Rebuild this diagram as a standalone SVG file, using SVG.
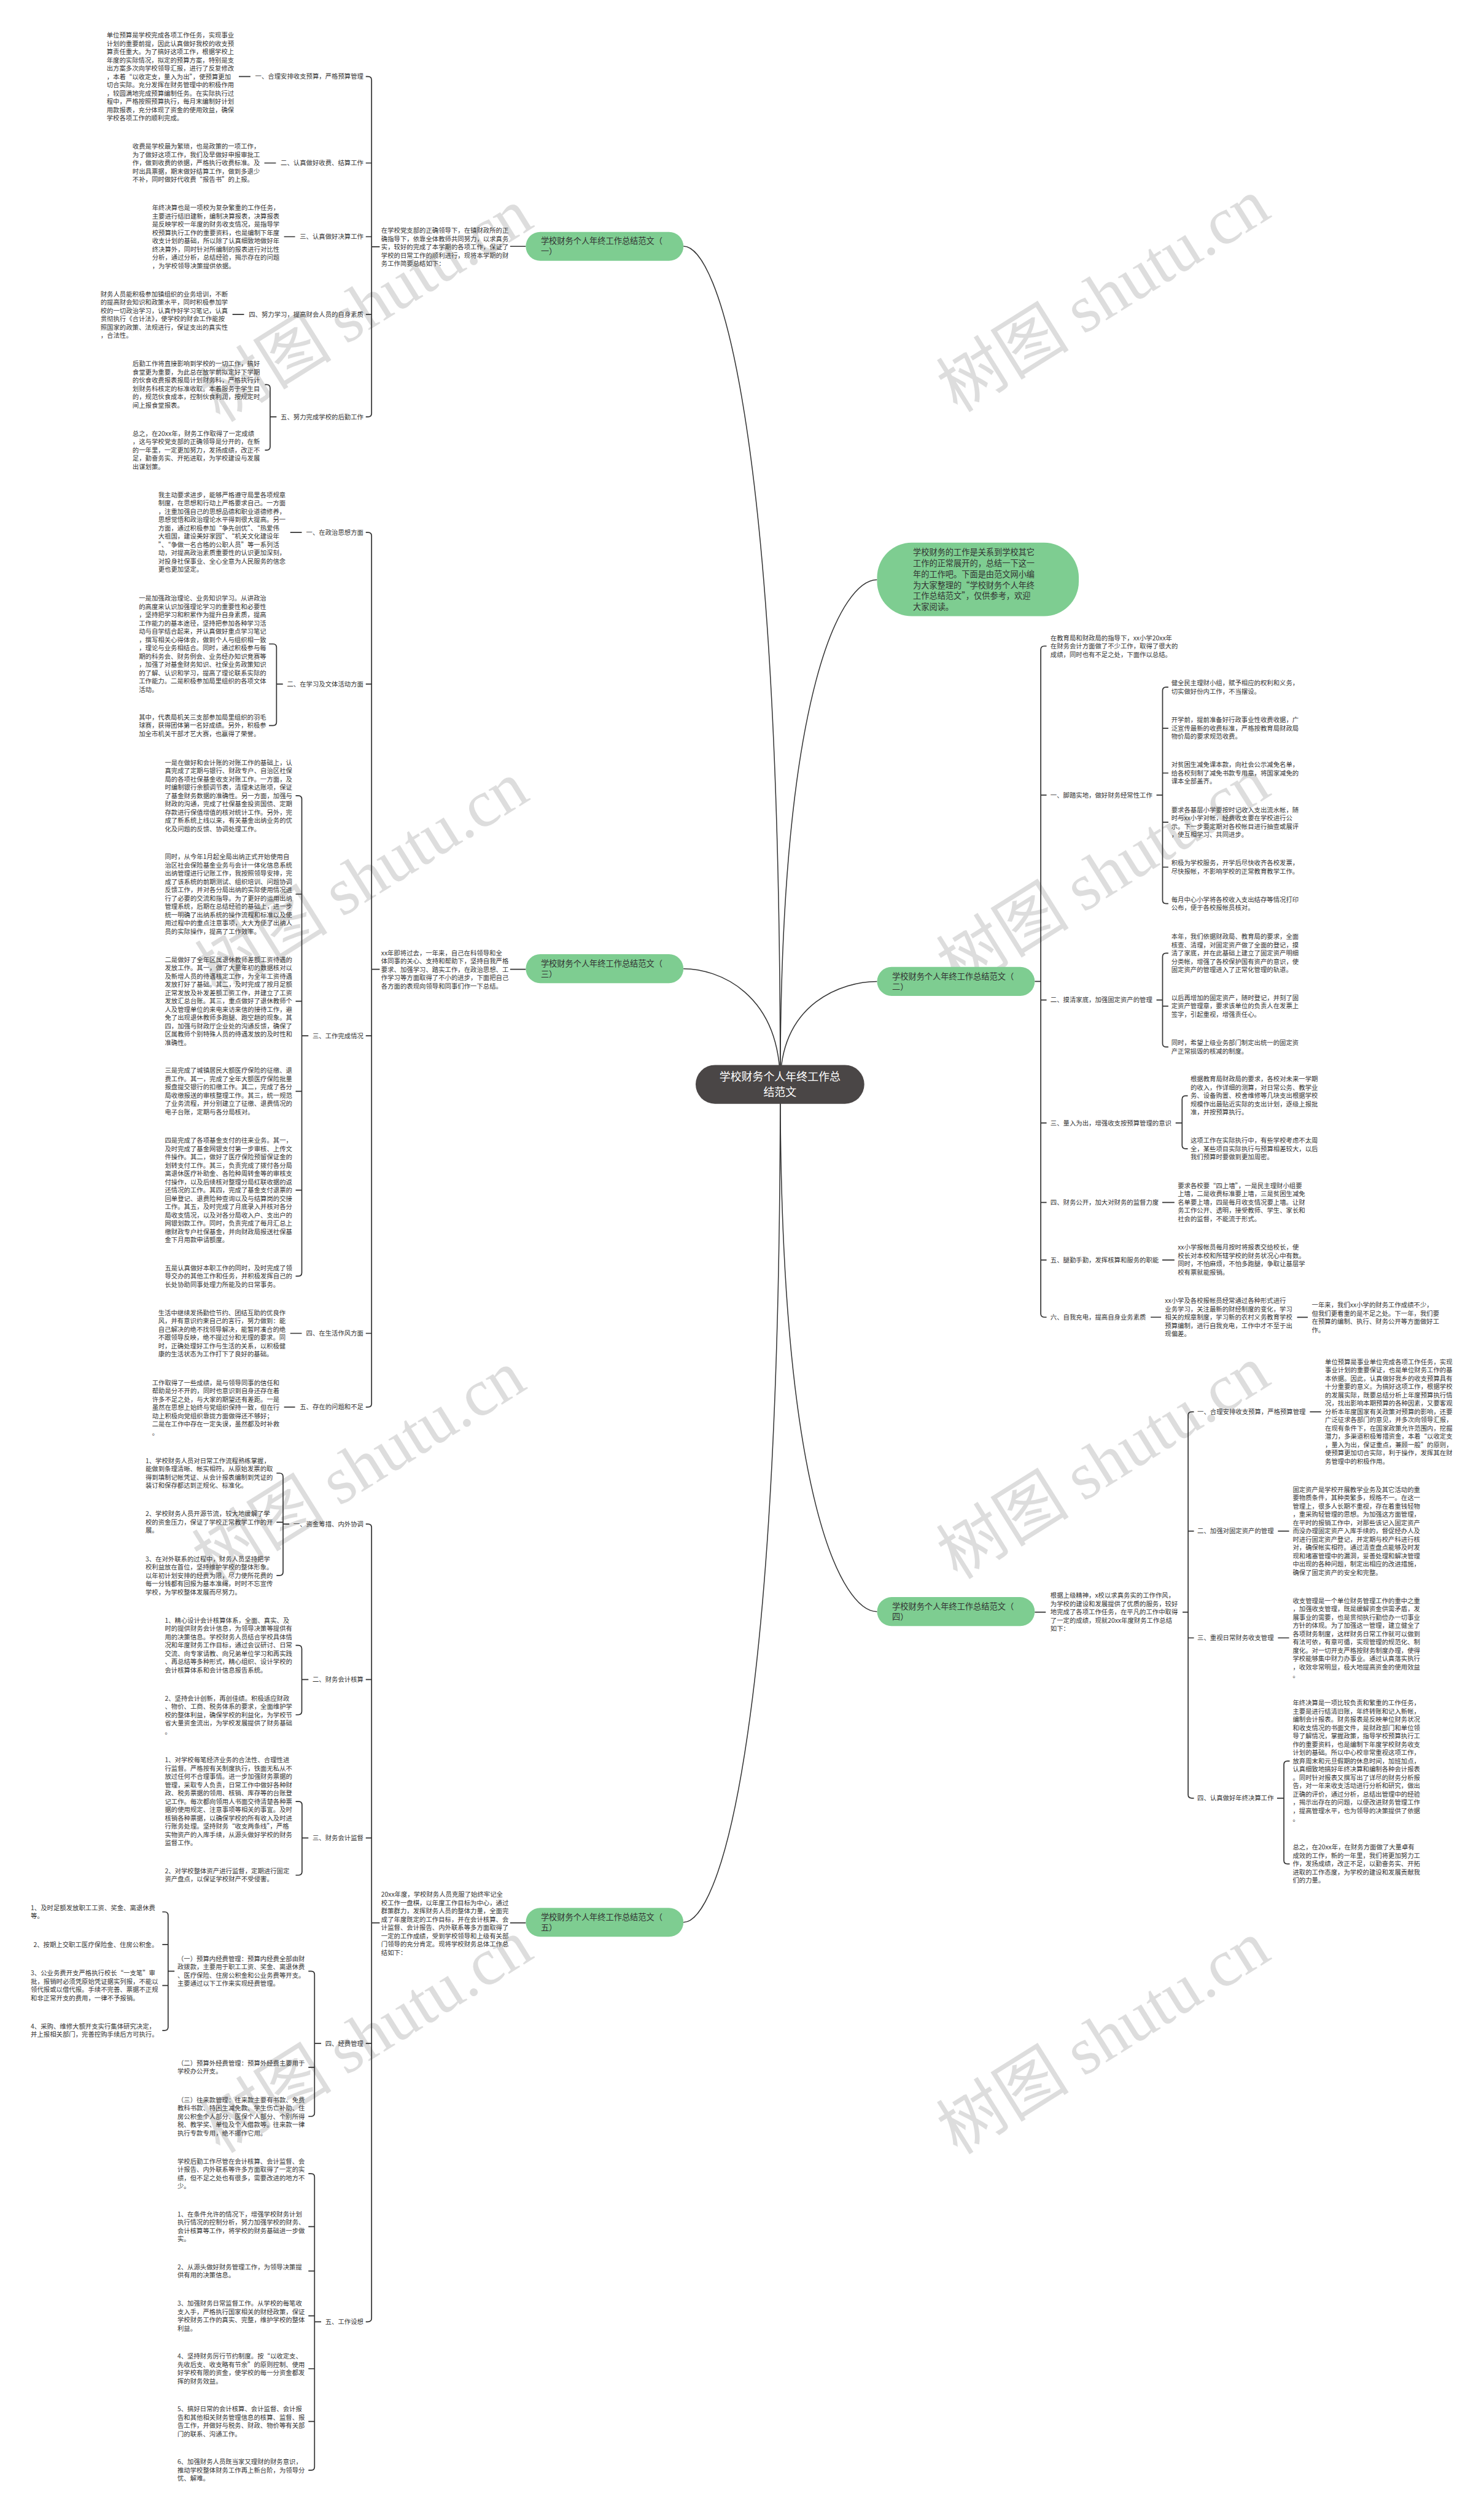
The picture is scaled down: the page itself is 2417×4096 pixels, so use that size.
<svg xmlns="http://www.w3.org/2000/svg" width="2417" height="4096" viewBox="0 0 2417 4096">
<defs>
<style>
.t{font-family:"Noto Sans CJK SC","Noto Sans",sans-serif;font-size:11px;fill:#333}
.lb{font-family:"Noto Sans CJK SC","Noto Sans",sans-serif;font-size:11px;fill:#333;text-anchor:end}
.lr{font-family:"Noto Sans CJK SC","Noto Sans",sans-serif;font-size:11px;fill:#333}
.nt{font-family:"Noto Sans CJK SC","Noto Sans",sans-serif;font-size:14px;fill:#333}
.ct{font-family:"Noto Sans CJK SC","Noto Sans",sans-serif;font-size:19px;fill:#fff;text-anchor:middle}
.node{fill:#7ecd91}
.ln{fill:none;stroke:#333;stroke-width:1.8}
.cv{fill:none;stroke:#333;stroke-width:1.6}
.wm{font-family:"Noto Sans CJK SC",sans-serif;font-size:115px;fill:#cfcfcf;opacity:0.7;text-anchor:middle}
.wm tspan.s{font-family:"Liberation Serif",serif}
</style>
</defs>
<rect width="2417" height="4096" fill="#fff"/>
<g transform="scale(0.94414)">
<g id="watermarks">
<text class="wm" transform="translate(652,560) rotate(-32)">树图 <tspan class="s">shutu.cn</tspan></text>
<text class="wm" transform="translate(645,1548) rotate(-32)">树图 <tspan class="s">shutu.cn</tspan></text>
<text class="wm" transform="translate(640,2564) rotate(-32)">树图 <tspan class="s">shutu.cn</tspan></text>
<text class="wm" transform="translate(652,3546) rotate(-32)">树图 <tspan class="s">shutu.cn</tspan></text>
<text class="wm" transform="translate(1924,543) rotate(-32)">树图 <tspan class="s">shutu.cn</tspan></text>
<text class="wm" transform="translate(1924,1540) rotate(-32)">树图 <tspan class="s">shutu.cn</tspan></text>
<text class="wm" transform="translate(1924,2556) rotate(-32)">树图 <tspan class="s">shutu.cn</tspan></text>
<text class="wm" transform="translate(1924,3548) rotate(-32)">树图 <tspan class="s">shutu.cn</tspan></text>
</g>
<g id="connectors">
<path class="cv" d="M1179,424.6 C1237,424.6 1346,714 1346,1870"/>
<path class="cv" d="M1179,1671 C1237,1671 1346,1711 1346,1870"/>
<path class="cv" d="M1179,3316 C1237,3316 1346,3027 1346,1870"/>
<path class="cv" d="M1513,1000 C1455,1000 1346,1174 1346,1870"/>
<path class="cv" d="M1513,1693 C1455,1693 1346,1728 1346,1870"/>
<path class="cv" d="M1513,2780 C1455,2780 1346,2598 1346,1870"/>
<path class="ln" d="M880,425 H907 M880,1672 H907 M880,3317 H907"/>
<path class="ln" d="M631,132 H635 Q641,132 641,138 V713 Q641,719 635,719 H631 M631,281.2 H641 M631,408.3 H641 M631,542.4 H641 M641,425.6 H655"/>
<path class="ln" d="M412,132 H432 M456,281.2 H476 M490,408.3 H509 M401,542.4 H421"/>
<path class="ln" d="M457,663.5 H460 Q466,663.5 466,669.5 V770.6 Q466,776.6 460,776.6 H457 M466,719 H477"/>
<path class="ln" d="M631,918.4 H635 Q641,918.4 641,924.4 V2421.3 Q641,2427.3 635,2427.3 H631 M631,1180 H641 M631,1786.6 H641 M631,2300 H641 M641,1672 H655"/>
<path class="ln" d="M464,1110.8 H471 Q477,1110.8 477,1116.8 V1245.5 Q477,1251.5 471,1251.5 H464 M477,1180 H488"/>
<path class="ln" d="M510,1372.5 H514.6 Q520.6,1372.5 520.6,1378.5 V2195.4 Q520.6,2201.4 514.6,2201.4 H510 M510,1542.4 H520.6 M510,1727 H520.6 M510,1882.5 H520.6 M510,2053 H520.6 M520.6,1786.6 H532"/>
<path class="ln" d="M500.7,918.4 H520.6 M500.7,2300 H520.6 M490,2427.3 H509"/>
<path class="ln" d="M631,2628.9 H635 Q641,2628.9 641,2634.9 V3999 Q641,4005 635,4005 H631 M631,2897.2 H641 M631,3170.4 H641 M631,3524.8 H641 M641,3317 H655"/>
<path class="ln" d="M477,2541.2 H482.3 Q488.3,2541.2 488.3,2547.2 V2711.7 Q488.3,2717.7 482.3,2717.7 H477 M477,2625.8 H488.3 M488.3,2628.9 H499"/>
<path class="ln" d="M510,2838.1 H514.6 Q520.6,2838.1 520.6,2844.1 V2952 Q520.6,2958 514.6,2958 H510 M520.6,2897.2 H532"/>
<path class="ln" d="M510,3107.5 H515 Q521,3107.5 521,3113.5 V3228.7 Q521,3234.7 515,3234.7 H510 M521,3170.4 H532"/>
<path class="ln" d="M532,3400.3 H536.6 Q542.6,3400.3 542.6,3406.3 V3644.7 Q542.6,3650.7 536.6,3650.7 H532 M532,3566 H542.6 M542.6,3524.8 H554"/>
<path class="ln" d="M280,3298 H284 Q290,3298 290,3304 V3496.5 Q290,3502.5 284,3502.5 H280 M280,3354.3 H290 M280,3424.9 H290 M290,3400.3 H301"/>
<path class="ln" d="M532,3749.5 H536.6 Q542.6,3749.5 542.6,3755.5 V4255.1 Q542.6,4261.1 536.6,4261.1 H532 M532,3841 H542.6 M532,3917.4 H542.6 M532,3994.8 H542.6 M532,4086 H542.6 M532,4177 H542.6 M542.6,4005 H554"/>
<path class="ln" d="M1805.4,1114.5 H1801.4 Q1795.4,1114.5 1795.4,1120.5 V2266.2 Q1795.4,2272.2 1801.4,2272.2 H1805.4 M1795.4,1371.5 H1805.4 M1795.4,1724.9 H1805.4 M1795.4,1937 H1805.4 M1795.4,2074.3 H1805.4 M1795.4,2173.5 H1805.4 M1785,1693 H1795.4"/>
<path class="ln" d="M2015.5,1185.4 H2011.5 Q2005.5,1185.4 2005.5,1191.4 V1552.7 Q2005.5,1558.7 2011.5,1558.7 H2015.5 M2005.5,1256.3 H2015.5 M2005.5,1333.5 H2015.5 M2005.5,1418.3 H2015.5 M2005.5,1495.8 H2015.5 M1995,1371.5 H2005.5"/>
<path class="ln" d="M2015.5,1644.2 H2011.5 Q2005.5,1644.2 2005.5,1650.2 V1800 Q2005.5,1806 2011.5,1806 H2015.5 M2005.5,1735.5 H2015.5 M1995,1724.9 H2005.5"/>
<path class="ln" d="M2049,1890.3 H2045.2 Q2039.2,1890.3 2039.2,1896.3 V1975.6 Q2039.2,1981.6 2045.2,1981.6 H2049 M2028,1937 H2039.2"/>
<path class="ln" d="M2005,2074.3 H2026 M2005,2173.5 H2026 M1985,2272.2 H2003 M2237.6,2272.3 H2256"/>
<path class="ln" d="M1785,2781 H1804 M2040,2781 H2049.6 M2059.6,2435.4 H2055.6 Q2049.6,2435.4 2049.6,2441.4 V3095.8 Q2049.6,3101.8 2055.6,3101.8 H2059.6 M2049.6,2641.1 H2059.6 M2049.6,2825.3 H2059.6"/>
<path class="ln" d="M2259.6,2435.4 H2279 M2204.5,2641.1 H2223.8 M2204.5,2825.3 H2223.8 M2203,3101.8 H2214.8 M2224.8,3037.8 H2220.8 Q2214.8,3037.8 2214.8,3043.8 V3209.3 Q2214.8,3215.3 2220.8,3215.3 H2224.8"/>
</g>
<g id="center">
<rect x="1200" y="1837" width="291" height="67" rx="33.5" fill="#4a4646"/>
<text class="ct" x="1345.5" y="1864">学校财务个人年终工作总<tspan x="1345.5" dy="27">结范文</tspan></text>
</g>
<g id="intro">
<rect class="node" x="1513" y="936" width="348" height="127" rx="60"/>
<text class="nt" x="1575" y="958">学校财务的工作是关系到学校其它<tspan x="1575" dy="18.8">工作的正常展开的，总结一下这一</tspan><tspan x="1575" dy="18.8">年的工作吧。下面是由范文网小编</tspan><tspan x="1575" dy="18.8">为大家整理的“学校财务个人年终</tspan><tspan x="1575" dy="18.8">工作总结范文”，仅供参考，欢迎</tspan><tspan x="1575" dy="18.8">大家阅读。</tspan></text>
</g>
<g id="branch1">
<rect class="node" x="907" y="400" width="272" height="50" rx="25"/>
<text class="nt" x="933" y="421">学校财务个人年终工作总结范文（<tspan x="933" dy="18">一）</tspan></text>
<text class="t" x="657.5" y="401.5">在学校党支部的正确领导下，在镇财政所的正<tspan x="657.5" dy="14.3">确指导下，依靠全体教师共同努力，以求真务</tspan><tspan x="657.5" dy="14.3">实，较好的完成了本学期的各项工作，保证了</tspan><tspan x="657.5" dy="14.3">学校的日常工作的顺利进行，现将本学期的财</tspan><tspan x="657.5" dy="14.3">务工作简要总结如下：</tspan></text>
<text class="lb" x="627" y="136">一、合理安排收支预算，严格预算管理</text>
<text class="lb" x="627" y="285.2">二、认真做好收费、结算工作</text>
<text class="lb" x="627" y="412.3">三、认真做好决算工作</text>
<text class="lb" x="627" y="546.4">四、努力学习，提高财会人员的自身素质</text>
<text class="lb" x="627" y="723">五、努力完成学校的后勤工作</text>
<text class="t" x="184" y="64.8">单位预算是学校完成各项工作任务，实现事业<tspan x="184" dy="14.3">计划的重要前提，因此认真做好我校的收支预</tspan><tspan x="184" dy="14.3">算责任重大。为了搞好这项工作，根据学校上</tspan><tspan x="184" dy="14.3">年度的实际情况，拟定的预算方案，特别是支</tspan><tspan x="184" dy="14.3">出方案多次向学校领导汇报，进行了反复修改</tspan><tspan x="184" dy="14.3">，本着“以收定支，量入为出”，使预算更加</tspan><tspan x="184" dy="14.3">切合实际。充分发挥在财务管理中的积极作用</tspan><tspan x="184" dy="14.3">，较圆满地完成预算编制任务。在实际执行过</tspan><tspan x="184" dy="14.3">程中，严格按照预算执行，每月末编制好计划</tspan><tspan x="184" dy="14.3">用款报表，充分体现了资金的使用效益，确保</tspan><tspan x="184" dy="14.3">学校各项工作的顺利完成。</tspan></text>
<text class="t" x="228.6" y="256.7">收费是学校最为繁琐，也是政策的一项工作，<tspan x="228.6" dy="14.3">为了做好这项工作，我们及早做好申报审批工</tspan><tspan x="228.6" dy="14.3">作，做到收费的依据，严格执行收费标准。及</tspan><tspan x="228.6" dy="14.3">时出具票据，期末做好结算工作，做到多退少</tspan><tspan x="228.6" dy="14.3">不补，同时做好代收费“报告书”的上报。</tspan></text>
<text class="t" x="262.4" y="362.3">年终决算也是一项校为复杂繁重的工作任务，<tspan x="262.4" dy="14.3">主要进行结旧建新，编制决算报表，决算报表</tspan><tspan x="262.4" dy="14.3">是反映学校一年度的财务收支情况，是指导学</tspan><tspan x="262.4" dy="14.3">校预算执行工作的重要资料，也是编制下年度</tspan><tspan x="262.4" dy="14.3">收支计划的基础，所以除了认真细致地做好年</tspan><tspan x="262.4" dy="14.3">终决算外，同时针对所编制的报表进行对比性</tspan><tspan x="262.4" dy="14.3">分析，通过分析，总结经验，揭示存在的问题</tspan><tspan x="262.4" dy="14.3">，为学校领导决策提供依据。</tspan></text>
<text class="t" x="173.4" y="511.2">财务人员能积极参加镇组织的业务培训，不断<tspan x="173.4" dy="14.3">的提高财会知识和政策水平，同时积极参加学</tspan><tspan x="173.4" dy="14.3">校的一切政治学习，认真作好学习笔记，认真</tspan><tspan x="173.4" dy="14.3">贯彻执行《合计法》，使学校的财会工作能按</tspan><tspan x="173.4" dy="14.3">照国家的政策、法规进行，保证支出的真实性</tspan><tspan x="173.4" dy="14.3">，合法性。</tspan></text>
<text class="t" x="228.6" y="631.7">后勤工作将直接影响到学校的一切工作，搞好<tspan x="228.6" dy="14.3">食堂更为重要，为此总在放学前拟定好下学期</tspan><tspan x="228.6" dy="14.3">的伙食收费报表报局计划财务科，严格执行计</tspan><tspan x="228.6" dy="14.3">划财务科核定的标准收取。本着服务于学生目</tspan><tspan x="228.6" dy="14.3">的，规范伙食成本，控制伙食利润，按规定时</tspan><tspan x="228.6" dy="14.3">间上报食堂报表。</tspan></text>
<text class="t" x="228.6" y="752">总之，在20xx年，财务工作取得了一定成绩<tspan x="228.6" dy="14.3">，这与学校党支部的正确领导是分开的，在新</tspan><tspan x="228.6" dy="14.3">的一年里，一定更加努力，发扬成绩，改正不</tspan><tspan x="228.6" dy="14.3">足，勤奋务实、开拓进取，为学校建设与发展</tspan><tspan x="228.6" dy="14.3">出谋划策。</tspan></text>
</g>
<g id="branch3">
<rect class="node" x="907" y="1646" width="272" height="50" rx="25"/>
<text class="nt" x="933" y="1667">学校财务个人年终工作总结范文（<tspan x="933" dy="18">三）</tspan></text>
<text class="t" x="657.5" y="1647.8">xx年即将过去，一年来，自己在科领导和全<tspan x="657.5" dy="14.3">体同事的关心、支持和帮助下，坚持自我严格</tspan><tspan x="657.5" dy="14.3">要求、加强学习、踏实工作，在政治思想、工</tspan><tspan x="657.5" dy="14.3">作学习等方面取得了不小的进步，下面把自己</tspan><tspan x="657.5" dy="14.3">各方面的表现向领导和同事们作一下总结。</tspan></text>
<text class="lb" x="627" y="922.4">一、在政治思想方面</text>
<text class="lb" x="627" y="1184">二、在学习及文体活动方面</text>
<text class="lb" x="627" y="1790.6">三、工作完成情况</text>
<text class="lb" x="627" y="2304">四、在生活作风方面</text>
<text class="lb" x="627" y="2431.3">五、存在的问题和不足</text>
<text class="t" x="272.9" y="857.6">我主动要求进步，能够严格遵守局里各项规章<tspan x="272.9" dy="14.3">制度，在思想和行动上严格要求自己。一方面</tspan><tspan x="272.9" dy="14.3">，注重加强自己的思想品德和职业道德修养，</tspan><tspan x="272.9" dy="14.3">思想觉悟和政治理论水平得到很大提高。另一</tspan><tspan x="272.9" dy="14.3">方面，通过积极参加“争先创优”、“热爱伟</tspan><tspan x="272.9" dy="14.3">大祖国，建设美好家园”、“机关文化建设年</tspan><tspan x="272.9" dy="14.3">”、“争做一名合格的公职人员”等一系列活</tspan><tspan x="272.9" dy="14.3">动，对提高政治素质重要性的认识更加深刻，</tspan><tspan x="272.9" dy="14.3">对投身社保事业、全心全意为人民服务的信念</tspan><tspan x="272.9" dy="14.3">更也更加坚定。</tspan></text>
<text class="t" x="239.6" y="1036.1">一是加强政治理论、业务知识学习。从讲政治<tspan x="239.6" dy="14.3">的高度来认识加强理论学习的重要性和必要性</tspan><tspan x="239.6" dy="14.3">，坚持把学习和积累作为提升自身素质，提高</tspan><tspan x="239.6" dy="14.3">工作能力的基本途径，坚持把参加各种学习活</tspan><tspan x="239.6" dy="14.3">动与自学结合起来，并认真做好重点学习笔记</tspan><tspan x="239.6" dy="14.3">，撰写相关心得体会，做到个人与组织相一致</tspan><tspan x="239.6" dy="14.3">，理论与业务相结合。同时，通过积极参与每</tspan><tspan x="239.6" dy="14.3">期的科务会、财务例会、业务经办知识竞赛等</tspan><tspan x="239.6" dy="14.3">，加强了对基金财务知识、社保业务政策知识</tspan><tspan x="239.6" dy="14.3">的了解、认识和学习，提高了理论联系实际的</tspan><tspan x="239.6" dy="14.3">工作能力。二是积极参加局里组织的各项文体</tspan><tspan x="239.6" dy="14.3">活动。</tspan></text>
<text class="t" x="239.6" y="1241.2">其中，代表局机关三支部参加局里组织的羽毛<tspan x="239.6" dy="14.3">球赛，获得团体第一名好成绩。另外，积极参</tspan><tspan x="239.6" dy="14.3">加全市机关干部才艺大赛，也赢得了荣誉。</tspan></text>
<text class="t" x="284.3" y="1319.3">一是在做好和会计账的对账工作的基础上，认<tspan x="284.3" dy="14.3">真完成了定期与银行、财政专户、自治区社保</tspan><tspan x="284.3" dy="14.3">局的各项社保基金收支对账工作。一方面，及</tspan><tspan x="284.3" dy="14.3">时编制银行余额调节表，清理未达账项，保证</tspan><tspan x="284.3" dy="14.3">了基金财务数据的准确性。另一方面，加强与</tspan><tspan x="284.3" dy="14.3">财政的沟通，完成了社保基金投资国债、定期</tspan><tspan x="284.3" dy="14.3">存款进行保值增值的核对统计工作。另外，完</tspan><tspan x="284.3" dy="14.3">成了新系统上线以来，有关基金出纳业务的优</tspan><tspan x="284.3" dy="14.3">化及问题的反馈、协调处理工作。</tspan></text>
<text class="t" x="284.3" y="1482">同时，从今年1月起全局出纳正式开始使用自<tspan x="284.3" dy="14.3">治区社会保险基金业务与会计一体化信息系统</tspan><tspan x="284.3" dy="14.3">出纳管理进行记账工作，我按照领导安排，完</tspan><tspan x="284.3" dy="14.3">成了该系统的前期测试、组织培训、问题协调</tspan><tspan x="284.3" dy="14.3">反馈工作，并对各分局出纳的实际使用情况进</tspan><tspan x="284.3" dy="14.3">行了必要的交流和指导。为了更好的运用出纳</tspan><tspan x="284.3" dy="14.3">管理系统，后期在总结经验的基础上，进一步</tspan><tspan x="284.3" dy="14.3">统一明确了出纳系统的操作流程和标准以及使</tspan><tspan x="284.3" dy="14.3">用过程中的重点注意事项，大大方便了出纳人</tspan><tspan x="284.3" dy="14.3">员的实际操作，提高了工作效率。</tspan></text>
<text class="t" x="284.3" y="1659.5">二是做好了全年区属退休教师差额工资待遇的<tspan x="284.3" dy="14.3">发放工作。其一，做了大量年初的数据核对以</tspan><tspan x="284.3" dy="14.3">及新增人员的待遇核定工作，为全年工资待遇</tspan><tspan x="284.3" dy="14.3">发放打好了基础。其二，及时完成了按月足额</tspan><tspan x="284.3" dy="14.3">正常发放及补发差额工资工作，并建立了工资</tspan><tspan x="284.3" dy="14.3">发放汇总台账。其三，重点做好了退休教师个</tspan><tspan x="284.3" dy="14.3">人及管理单位的来电来访来信的接待工作，避</tspan><tspan x="284.3" dy="14.3">免了出现退休教师多跑腿、跑空趟的现象。其</tspan><tspan x="284.3" dy="14.3">四，加强与财政厅企业处的沟通反馈，确保了</tspan><tspan x="284.3" dy="14.3">区属教师个别特殊人员的待遇发放的及时性和</tspan><tspan x="284.3" dy="14.3">准确性。</tspan></text>
<text class="t" x="284.3" y="1850.8">三是完成了城镇居民大额医疗保险的征缴、退<tspan x="284.3" dy="14.3">费工作。其一，完成了全年大额医疗保险批量</tspan><tspan x="284.3" dy="14.3">报盘提交银行的扣缴工作。其二，完成了各分</tspan><tspan x="284.3" dy="14.3">局收缴报送的审核整理工作。其三，统一规范</tspan><tspan x="284.3" dy="14.3">了业务流程，并分别建立了征缴、退费情况的</tspan><tspan x="284.3" dy="14.3">电子台账，定期与各分局核对。</tspan></text>
<text class="t" x="284.3" y="1971.2">四是完成了各项基金支付的往来业务。其一，<tspan x="284.3" dy="14.3">及时完成了基金网银支付第一步审核、上传文</tspan><tspan x="284.3" dy="14.3">件操作。其二，做好了医疗保险预留保证金的</tspan><tspan x="284.3" dy="14.3">划转支付工作。其三，负责完成了拨付各分局</tspan><tspan x="284.3" dy="14.3">离退休医疗补助金、各险种周转金等的审核支</tspan><tspan x="284.3" dy="14.3">付操作，以及后续核对整理分局红联收据的返</tspan><tspan x="284.3" dy="14.3">还情况的工作。其四，完成了基金支付退票的</tspan><tspan x="284.3" dy="14.3">回单登记、退费险种查询以及与结算岗的交接</tspan><tspan x="284.3" dy="14.3">工作。其五，及时完成了月底录入并核对各分</tspan><tspan x="284.3" dy="14.3">局收支情况，以及对各分局收入户、支出户的</tspan><tspan x="284.3" dy="14.3">网银划款工作。同时，负责完成了每月汇总上</tspan><tspan x="284.3" dy="14.3">缴财政专户社保基金，并向财政局报送社保基</tspan><tspan x="284.3" dy="14.3">金下月用款申请额度。</tspan></text>
<text class="t" x="284.3" y="2191.1">五是认真做好本职工作的同时，及时完成了领<tspan x="284.3" dy="14.3">导交办的其他工作和任务，并积极发挥自己的</tspan><tspan x="284.3" dy="14.3">长处协助同事处理力所能及的日常事务。</tspan></text>
<text class="t" x="272.9" y="2268.7">生活中继续发扬勤俭节约、团结互助的优良作<tspan x="272.9" dy="14.3">风，并有意识约束自己的言行，努力做到：能</tspan><tspan x="272.9" dy="14.3">自己解决的绝不找领导解决，能暂时凑合的绝</tspan><tspan x="272.9" dy="14.3">不跟领导反映，绝不提过分和无理的要求。同</tspan><tspan x="272.9" dy="14.3">时，正确处理好工作与生活的关系，以积极健</tspan><tspan x="272.9" dy="14.3">康的生活状态为工作打下了良好的基础。</tspan></text>
<text class="t" x="262.4" y="2389">工作取得了一些成绩，是与领导同事的信任和<tspan x="262.4" dy="14.3">帮助是分不开的，同时也意识到自身还存在着</tspan><tspan x="262.4" dy="14.3">许多不足之处，与大家的期望还有差距。一是</tspan><tspan x="262.4" dy="14.3">虽然在思想上始终与党组织保持一致，但在行</tspan><tspan x="262.4" dy="14.3">动上积极向党组织靠拢方面做得还不够好；</tspan><tspan x="262.4" dy="14.3">二是在工作中存在一定失误，虽然都及时补救</tspan><tspan x="262.4" dy="14.3">。</tspan></text>
</g>
<g id="branch5">
<rect class="node" x="907" y="3291" width="272" height="50" rx="25"/>
<text class="nt" x="933" y="3312">学校财务个人年终工作总结范文（<tspan x="933" dy="18">五）</tspan></text>
<text class="t" x="657.5" y="3272.1">20xx年度，学校财务人员克服了始终牢记全<tspan x="657.5" dy="14.3">校工作一盘棋，以年度工作目标为中心，通过</tspan><tspan x="657.5" dy="14.3">群策群力，发挥财务人员的整体力量，全面完</tspan><tspan x="657.5" dy="14.3">成了年度既定的工作目标，并在会计核算、会</tspan><tspan x="657.5" dy="14.3">计监督、会计报告、内外联系等多方面取得了</tspan><tspan x="657.5" dy="14.3">一定的工作成绩，受到学校领导和上级有关部</tspan><tspan x="657.5" dy="14.3">门领导的充分肯定。现将学校财务总体工作总</tspan><tspan x="657.5" dy="14.3">结如下：</tspan></text>
<text class="lb" x="627" y="2632.9">一、资金筹措、内外协调</text>
<text class="lb" x="627" y="2901.2">二、财务会计核算</text>
<text class="lb" x="627" y="3174.4">三、财务会计监督</text>
<text class="lb" x="627" y="3528.8">四、经费管理</text>
<text class="lb" x="627" y="4009">五、工作设想</text>
<text class="t" x="251" y="2523.7">1、学校财务人员对日常工作流程熟练掌握，<tspan x="251" dy="14.3">能做到条理清晰、帐实相符。从原始发票的取</tspan><tspan x="251" dy="14.3">得到填制记帐凭证、从会计报表编制到凭证的</tspan><tspan x="251" dy="14.3">装订和保存都达到正规化、标准化。</tspan></text>
<text class="t" x="251" y="2615.5">2、学校财务人员开源节流，较大地缓解了学<tspan x="251" dy="14.3">校的资金压力，保证了学校正常教学工作的开</tspan><tspan x="251" dy="14.3">展。</tspan></text>
<text class="t" x="251" y="2693.1">3、在对外联系的过程中，财务人员坚持把学<tspan x="251" dy="14.3">校利益放在首位，坚持维护学校的整体形象。</tspan><tspan x="251" dy="14.3">以年初计划安排的经费为限，尽力使所花费的</tspan><tspan x="251" dy="14.3">每一分钱都有回报为基本准绳，时时不忘宣传</tspan><tspan x="251" dy="14.3">学校，为学校整体发展而尽努力。</tspan></text>
<text class="t" x="284.3" y="2799.2">1、精心设计会计核算体系，全面、真实、及<tspan x="284.3" dy="14.3">时的提供财务会计信息，为领导决策等提供有</tspan><tspan x="284.3" dy="14.3">用的决策信息。学校财务人员结合学校具体情</tspan><tspan x="284.3" dy="14.3">况和年度财务工作目标，通过会议研讨、日常</tspan><tspan x="284.3" dy="14.3">交流、向专家请教、向兄弟单位学习和再实践</tspan><tspan x="284.3" dy="14.3">、再总结等多种形式，精心组织、设计学校的</tspan><tspan x="284.3" dy="14.3">会计核算体系和会计信息报告系统。</tspan></text>
<text class="t" x="284.3" y="2933.4">2、坚持会计创新，再创佳绩。积极适应财政<tspan x="284.3" dy="14.3">、物价、工商、税务体系的要求，全面维护学</tspan><tspan x="284.3" dy="14.3">校的整体利益，确保学校的利益化，为学校节</tspan><tspan x="284.3" dy="14.3">省大量资金流出，为学校发展提供了财务基础</tspan><tspan x="284.3" dy="14.3">。</tspan></text>
<text class="t" x="284.3" y="3040">1、对学校每笔经济业务的合法性、合理性进<tspan x="284.3" dy="14.3">行监督。严格按有关制度执行，铁面无私从不</tspan><tspan x="284.3" dy="14.3">放过任何不合理事情。进一步加强财务票据的</tspan><tspan x="284.3" dy="14.3">管理，采取专人负责，日常工作中做好各种财</tspan><tspan x="284.3" dy="14.3">政、税务票据的领用、核销、库存等的台账登</tspan><tspan x="284.3" dy="14.3">记工作。每次都向领用人书面交待清楚各种票</tspan><tspan x="284.3" dy="14.3">据的使用规定、注意事项等相关的事宜。及时</tspan><tspan x="284.3" dy="14.3">核销各种票据，以确保学校的所有收入及时进</tspan><tspan x="284.3" dy="14.3">行账务处理。坚持财务“收支两条线”，严格</tspan><tspan x="284.3" dy="14.3">实物资产的入库手续，从源头做好学校的财务</tspan><tspan x="284.3" dy="14.3">监督工作。</tspan></text>
<text class="t" x="284.3" y="3231.5">2、对学校整体资产进行监督，定期进行固定<tspan x="284.3" dy="14.3">资产盘点，以保证学校财产不受侵害。</tspan></text>
<text class="t" x="306" y="3382.8">（一）预算内经费管理：预算内经费全部由财<tspan x="306" dy="14.3">政拨款，主要用于职工工资、奖金、离退休费</tspan><tspan x="306" dy="14.3">、医疗保险、住房公积金和公业务费等开支。</tspan><tspan x="306" dy="14.3">主要通过以下工作来实现经费管理。</tspan></text>
<text class="t" x="53" y="3294.9">1、及时足额发放职工工资、奖金、离退休费<tspan x="53" dy="14.3">等。</tspan></text>
<text class="t" x="57.6" y="3358.3">2、按期上交职工医疗保险金、住房公积金。</text>
<text class="t" x="53" y="3407.4">3、公业务费开支严格执行校长“一支笔”审<tspan x="53" dy="14.3">批，报销时必须凭原始凭证据实列报，不能以</tspan><tspan x="53" dy="14.3">领代报或以借代报。手续不完善、票据不正规</tspan><tspan x="53" dy="14.3">和非正常开支的费用，一律不予报销。</tspan></text>
<text class="t" x="53" y="3499.4">4、采购、维修大额开支实行集体研究决定，<tspan x="53" dy="14.3">并上报相关部门，完善控购手续后方可执行。</tspan></text>
<text class="t" x="306" y="3562.8">（二）预算外经费管理：预算外经费主要用于<tspan x="306" dy="14.3">学校办公开支。</tspan></text>
<text class="t" x="306" y="3626.1">（三）往来款管理：往来款主要有书款、免费<tspan x="306" dy="14.3">教科书款、特困生减免款、学生伤亡补助、住</tspan><tspan x="306" dy="14.3">房公积金个人部分、医保个人部分、个别所得</tspan><tspan x="306" dy="14.3">税、教学奖、单位及个人借款等。往来款一律</tspan><tspan x="306" dy="14.3">执行专款专用，绝不挪作它用。</tspan></text>
<text class="t" x="306" y="3732">学校后勤工作尽管在会计核算、会计监督、会<tspan x="306" dy="14.3">计报告、内外联系等许多方面取得了一定的实</tspan><tspan x="306" dy="14.3">绩，但不足之处也有很多，需要改进的地方不</tspan><tspan x="306" dy="14.3">少。</tspan></text>
<text class="t" x="306" y="3823.5">1、在条件允许的情况下，增强学校财务计划<tspan x="306" dy="14.3">执行情况的控制分析，努力加强学校的财务、</tspan><tspan x="306" dy="14.3">会计核算等工作，将学校的财务基础进一步做</tspan><tspan x="306" dy="14.3">实。</tspan></text>
<text class="t" x="306" y="3914.2">2、从源头做好财务管理工作，为领导决策提<tspan x="306" dy="14.3">供有用的决策信息。</tspan></text>
<text class="t" x="306" y="3977.3">3、加强财务日常监督工作。从学校的每笔收<tspan x="306" dy="14.3">支入手，严格执行国家相关的财经政策，保证</tspan><tspan x="306" dy="14.3">学校财务工作的真实、完整，维护学校的整体</tspan><tspan x="306" dy="14.3">利益。</tspan></text>
<text class="t" x="306" y="4068.5">4、坚持财务厉行节约制度。按“以收定支、<tspan x="306" dy="14.3">先收后支、收支略有节余”的原则控制、使用</tspan><tspan x="306" dy="14.3">好学校有限的资金，使学校的每一分资金都发</tspan><tspan x="306" dy="14.3">挥的财务效益。</tspan></text>
<text class="t" x="306" y="4159.6">5、搞好日常的会计核算、会计监督、会计报<tspan x="306" dy="14.3">告和其他相关财务管理信息的核算、监督、报</tspan><tspan x="306" dy="14.3">告工作，并做好与税务、财政、物价等有关部</tspan><tspan x="306" dy="14.3">门的联系、沟通工作。</tspan></text>
<text class="t" x="306" y="4250.8">6、加强财务人员既当家又理财的财务意识，<tspan x="306" dy="14.3">推动学校整体财务工作再上新台阶，为领导分</tspan><tspan x="306" dy="14.3">忧、解难。</tspan></text>
</g>
<g id="branch2">
<rect class="node" x="1513" y="1668" width="272" height="50" rx="25"/>
<text class="nt" x="1539" y="1689">学校财务个人年终工作总结范文（<tspan x="1539" dy="18">二）</tspan></text>
<text class="t" x="1812" y="1104.2">在教育局和财政局的指导下，xx小学20xx年<tspan x="1812" dy="14.3">在财务会计方面做了不少工作，取得了很大的</tspan><tspan x="1812" dy="14.3">成绩，同时也有不足之处，下面作以总结。</tspan></text>
<text class="lr" x="1812" y="1375.5">一、脚踏实地，做好财务经常性工作</text>
<text class="lr" x="1812" y="1728.9">二、摸清家底，加强固定资产的管理</text>
<text class="lr" x="1812" y="1941">三、量入为出，增强收支按预算管理的意识</text>
<text class="lr" x="1812" y="2078.3">四、财务公开，加大对财务的监督力度</text>
<text class="lr" x="1812" y="2177.5">五、腿勤手勤，发挥核算和服务的职能</text>
<text class="lr" x="1812" y="2276.2">六、自我充电，提高自身业务素质</text>
<text class="t" x="2020.6" y="1182.2">健全民主理财小组，赋予相应的权利和义务，<tspan x="2020.6" dy="14.3">切实做好份内工作，不当摆设。</tspan></text>
<text class="t" x="2020.6" y="1246">开学前，提前准备好行政事业性收费收据，广<tspan x="2020.6" dy="14.3">泛宣传最新的收费标准，严格按教育局财政局</tspan><tspan x="2020.6" dy="14.3">物价局的要求规范收费。</tspan></text>
<text class="t" x="2020.6" y="1323.2">对贫困生减免课本款，向社会公示减免名单，<tspan x="2020.6" dy="14.3">给各校刻制了减免书款专用章，将国家减免的</tspan><tspan x="2020.6" dy="14.3">课本全部盖齐。</tspan></text>
<text class="t" x="2020.6" y="1400.8">要求各基层小学要按时记收入支出流水帐，随<tspan x="2020.6" dy="14.3">时与xx小学对帐，经费收支要在学校进行公</tspan><tspan x="2020.6" dy="14.3">示。下一步要定期对各校帐目进行抽查或展评</tspan><tspan x="2020.6" dy="14.3">，使互相学习、共同进步。</tspan></text>
<text class="t" x="2020.6" y="1492.6">积极为学校服务，开学后尽快收齐各校发票，<tspan x="2020.6" dy="14.3">尽快报帐，不影响学校的正常教育教学工作。</tspan></text>
<text class="t" x="2020.6" y="1555.5">每月中心小学将各校收入支出结存等情况打印<tspan x="2020.6" dy="14.3">公布，便于各校报帐员核对。</tspan></text>
<text class="t" x="2020.6" y="1619.6">本年，我们依据财政局、教育局的要求，全面<tspan x="2020.6" dy="14.3">核查、清理，对固定资产做了全面的登记，摸</tspan><tspan x="2020.6" dy="14.3">清了家底，并在此基础上建立了固定资产明细</tspan><tspan x="2020.6" dy="14.3">分类帐，增强了各校保护国有资产的意识，使</tspan><tspan x="2020.6" dy="14.3">固定资产的管理进入了正常化管理的轨道。</tspan></text>
<text class="t" x="2020.6" y="1725.2">以后再增加的固定资产，随时登记，并刻了固<tspan x="2020.6" dy="14.3">定资产管理章，要求该单位的负责人在发票上</tspan><tspan x="2020.6" dy="14.3">签字，引起重视，增强责任心。</tspan></text>
<text class="t" x="2020.6" y="1802.8">同时，希望上级业务部门制定出统一的固定资<tspan x="2020.6" dy="14.3">产正常损毁的核减的制度。</tspan></text>
<text class="t" x="2053.7" y="1865.7">根据教育局财政局的要求，各校对未来一学期<tspan x="2053.7" dy="14.3">的收入，作详细的测算，对日常公务、教学业</tspan><tspan x="2053.7" dy="14.3">务、设备购置、校舍维修等几块支出根据学校</tspan><tspan x="2053.7" dy="14.3">规模作出最贴近实际的支出计划，逐级上报批</tspan><tspan x="2053.7" dy="14.3">准，并按预算执行。</tspan></text>
<text class="t" x="2053.7" y="1971.3">这项工作在实际执行中，有些学校考虑不太周<tspan x="2053.7" dy="14.3">全，某些项目实际执行与预算相差较大，以后</tspan><tspan x="2053.7" dy="14.3">我们预算时要做到更加周密。</tspan></text>
<text class="t" x="2031.7" y="2049.4">要求各校要“四上墙”，一是民主理财小组要<tspan x="2031.7" dy="14.3">上墙，二是收费标准要上墙，三是贫困生减免</tspan><tspan x="2031.7" dy="14.3">名单要上墙，四是每月收支情况要上墙。让财</tspan><tspan x="2031.7" dy="14.3">务工作公开、透明，接受教师、学生、家长和</tspan><tspan x="2031.7" dy="14.3">社会的监督，不能流于形式。</tspan></text>
<text class="t" x="2031.7" y="2155.9">xx小学报帐员每月按时将报表交给校长，使<tspan x="2031.7" dy="14.3">校长对本校和所辖学校的财务状况心中有数。</tspan><tspan x="2031.7" dy="14.3">同时，不怕麻烦，不怕多跑腿，争取让基层学</tspan><tspan x="2031.7" dy="14.3">校有票就能报销。</tspan></text>
<text class="t" x="2009.6" y="2247.7">xx小学及各校报帐员经常通过各种形式进行<tspan x="2009.6" dy="14.3">业务学习，关注最新的财经制度的变化，学习</tspan><tspan x="2009.6" dy="14.3">相关的规章制度，学习新的农村义务教育学校</tspan><tspan x="2009.6" dy="14.3">预算编制，进行自我充电，工作中才不至于出</tspan><tspan x="2009.6" dy="14.3">现偏差。</tspan></text>
<text class="t" x="2263" y="2255">一年来，我们xx小学的财务工作成绩不少，<tspan x="2263" dy="14.3">但我们更看重的是不足之处。下一年，我们要</tspan><tspan x="2263" dy="14.3">在预算的编制、执行、财务公开等方面做好工</tspan><tspan x="2263" dy="14.3">作。</tspan></text>
</g>
<g id="branch4">
<rect class="node" x="1513" y="2755" width="272" height="50" rx="25"/>
<text class="nt" x="1539" y="2776">学校财务个人年终工作总结范文（<tspan x="1539" dy="18">四）</tspan></text>
<text class="t" x="1812" y="2756.2">根据上级精神，x校以求真务实的工作作风，<tspan x="1812" dy="14.3">为学校的建设和发展提供了优质的服务，较好</tspan><tspan x="1812" dy="14.3">地完成了各项工作任务，在平凡的工作中取得</tspan><tspan x="1812" dy="14.3">了一定的成绩，现就20xx年度财务工作总结</tspan><tspan x="1812" dy="14.3">如下：</tspan></text>
<text class="lr" x="2065.4" y="2439.4">一、合理安排收支预算，严格预算管理</text>
<text class="lr" x="2065.4" y="2645.1">二、加强对固定资产的管理</text>
<text class="lr" x="2065.4" y="2829.3">三、重视日常财务收支管理</text>
<text class="lr" x="2065.4" y="3105.8">四、认真做好年终决算工作</text>
<text class="t" x="2285.8" y="2353.1">单位预算是事业单位完成各项工作任务，实现<tspan x="2285.8" dy="14.3">事业计划的重要保证，也是单位财务工作的基</tspan><tspan x="2285.8" dy="14.3">本依据。因此，认真做好我乡的收支预算具有</tspan><tspan x="2285.8" dy="14.3">十分重要的意义。为搞好这项工作，根据学校</tspan><tspan x="2285.8" dy="14.3">的发展实际，既要总结分析上年度预算执行情</tspan><tspan x="2285.8" dy="14.3">况，找出影响本期预算的各种因素，又要客观</tspan><tspan x="2285.8" dy="14.3">分析本年度国家有关政策对预算的影响，还要</tspan><tspan x="2285.8" dy="14.3">广泛征求各部门的意见，并多次向领导汇报，</tspan><tspan x="2285.8" dy="14.3">在现有条件下，在国家政策允许范围内，挖掘</tspan><tspan x="2285.8" dy="14.3">潜力，多渠道积极筹措资金，本着“以收定支</tspan><tspan x="2285.8" dy="14.3">，量入为出，保证重点，兼顾一般”的原则，</tspan><tspan x="2285.8" dy="14.3">使预算更加切合实际，利于操作，发挥其在财</tspan><tspan x="2285.8" dy="14.3">务管理中的积极作用。</tspan></text>
<text class="t" x="2230" y="2573.5">固定资产是学校开展教学业务及其它活动的重<tspan x="2230" dy="14.3">要物质条件，其种类繁多，规格不一。在这一</tspan><tspan x="2230" dy="14.3">管理上，很多人长期不重视，存在着重钱轻物</tspan><tspan x="2230" dy="14.3">，重采购轻管理的思想。为加强这方面管理，</tspan><tspan x="2230" dy="14.3">在平时的报销工作中，对那些该记入固定资产</tspan><tspan x="2230" dy="14.3">而没办理固定资产入库手续的，督促经办人及</tspan><tspan x="2230" dy="14.3">时进行固定资产登记，并定期与校产科进行核</tspan><tspan x="2230" dy="14.3">对，确保帐实相符。通过清查盘点能够及时发</tspan><tspan x="2230" dy="14.3">现和堵塞管理中的漏洞，妥善处理和解决管理</tspan><tspan x="2230" dy="14.3">中出现的各种问题，制定出相应的改进措施，</tspan><tspan x="2230" dy="14.3">确保了固定资产的安全和完整。</tspan></text>
<text class="t" x="2230" y="2765">收支管理是一个单位财务管理工作的重中之重<tspan x="2230" dy="14.3">，加强收支管理，既是缓解资金供需矛盾，发</tspan><tspan x="2230" dy="14.3">展事业的需要，也是贯彻执行勤俭办一切事业</tspan><tspan x="2230" dy="14.3">方针的体现。为了加强这一管理，建立健全了</tspan><tspan x="2230" dy="14.3">各项财务制度，这样财务日常工作就可以做到</tspan><tspan x="2230" dy="14.3">有法可依，有章可循，实现管理的规范化、制</tspan><tspan x="2230" dy="14.3">度化。对一切开支严格按财务制度办理，使得</tspan><tspan x="2230" dy="14.3">学校能够集中财力办事业。通过认真落实执行</tspan><tspan x="2230" dy="14.3">，收效非常明显，极大地提高资金的使用效益</tspan><tspan x="2230" dy="14.3">。</tspan></text>
<text class="t" x="2230" y="2941.7">年终决算是一项比较负责和繁重的工作任务，<tspan x="2230" dy="14.3">主要是进行结清旧账，年终转账和记入新帐，</tspan><tspan x="2230" dy="14.3">编制会计报表。财务报表是反映单位财务状况</tspan><tspan x="2230" dy="14.3">和收支情况的书面文件，是财政部门和单位领</tspan><tspan x="2230" dy="14.3">导了解情况，掌握政策，指导学校预算执行工</tspan><tspan x="2230" dy="14.3">作的重要资料，也是编制下年度学校财务收支</tspan><tspan x="2230" dy="14.3">计划的基础。所以中心校非常重视这项工作，</tspan><tspan x="2230" dy="14.3">放弃周末和元旦假期的休息时间，加班加点，</tspan><tspan x="2230" dy="14.3">认真细致地搞好年终决算和编制各种会计报表</tspan><tspan x="2230" dy="14.3">。同时针对报表又撰写出了详尽的财务分析报</tspan><tspan x="2230" dy="14.3">告，对一年来收支活动进行分析和研究，做出</tspan><tspan x="2230" dy="14.3">正确的评价，通过分析，总结出管理中的经验</tspan><tspan x="2230" dy="14.3">，揭示出存在的问题，以便改进财务管理工作</tspan><tspan x="2230" dy="14.3">，提高管理水平，也为领导的决策提供了依据</tspan><tspan x="2230" dy="14.3">。</tspan></text>
<text class="t" x="2230" y="3190.7">总之，在20xx年，在财务方面做了大量卓有<tspan x="2230" dy="14.3">成效的工作，新的一年里，我们将更加努力工</tspan><tspan x="2230" dy="14.3">作，发扬成绩，改正不足，以勤奋务实、开拓</tspan><tspan x="2230" dy="14.3">进取的工作态度，为学校的建设和发展贡献我</tspan><tspan x="2230" dy="14.3">们的力量。</tspan></text>
</g>
</g>
</svg>
